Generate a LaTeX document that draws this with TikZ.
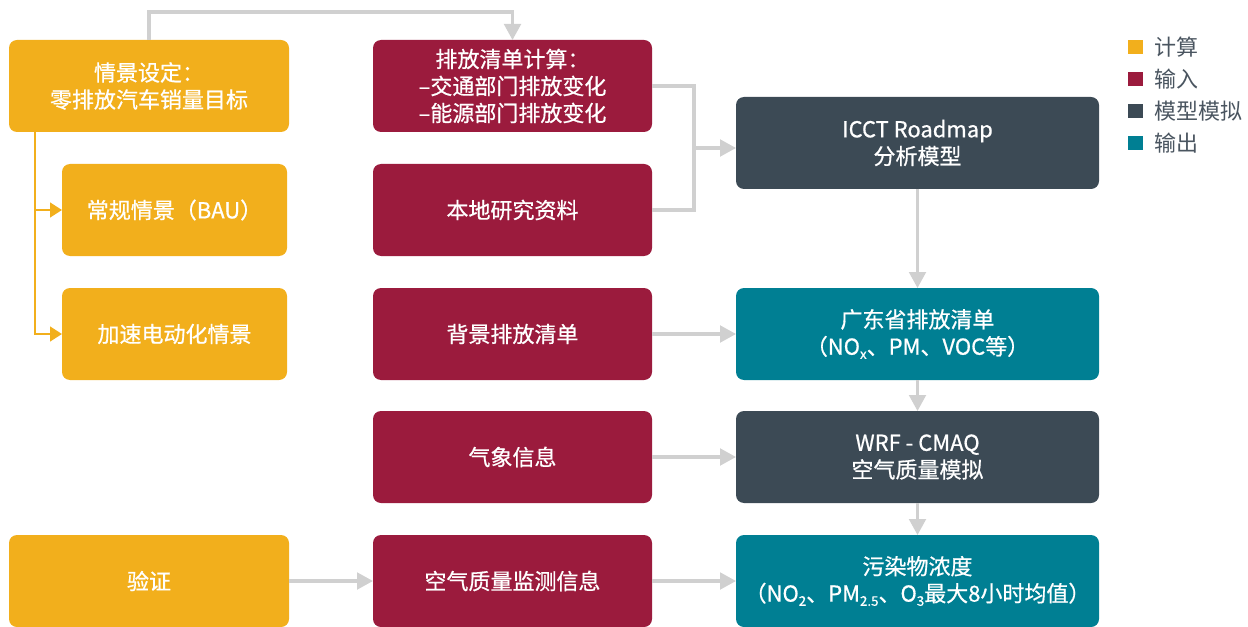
\documentclass[tikz,border=0pt]{standalone}
\usepackage{fontspec}
\setmainfont{Noto Sans CJK SC}
\newfontfamily\boxfont{Noto Sans CJK SC}[FakeBold=0.7]
\usetikzlibrary{arrows.meta,calc}
\definecolor{corange}{HTML}{F2AF1C}
\definecolor{ccrim}{HTML}{9B1B3D}
\definecolor{cdark}{HTML}{3C4A55}
\definecolor{cteal}{HTML}{007F93}
\definecolor{cgray}{HTML}{D0D0D0}
\definecolor{clegend}{HTML}{4A5560}
\newcommand\lowsub[1]{\raisebox{-0.35ex}{\fontsize{10pt}{10pt}\selectfont #1}}
\tikzset{
  box/.style={rounded corners=6pt, outer sep=0pt, inner sep=2pt, align=center,
    text=white, minimum height=69pt, font=\boxfont\fontsize{16.5pt}{20.25pt}\selectfont},
  calc/.style={box, fill=corange},
  inp/.style={box, fill=ccrim, minimum width=209.25pt},
  model/.style={box, fill=cdark, minimum width=272.25pt},
  outp/.style={box, fill=cteal, minimum width=272.25pt},
  gline/.style={draw=cgray, line width=2.3pt},
  garrow/.style={gline, -{Triangle[length=12pt,width=12.5pt]}},
  oarrow/.style={draw=corange, line width=1.8pt, -{Triangle[length=9pt,width=11pt]}},
  legsq/.style={minimum size=11pt, inner sep=0pt},
  legtxt/.style={anchor=west, text=clegend, font=\fontsize{16.5pt}{20pt}\selectfont}
}
\begin{document}
\begin{tikzpicture}[x=0.75pt,y=-0.75pt]
\useasboundingbox (0,0) rectangle (1248,627);
% left column
\node[calc, minimum width=210pt] (s) at (149,86) {情景设定：\\零排放汽车销量目标};
\node[calc, minimum width=168.75pt] (bau) at (174.5,210) {常规情景（BAU）};
\node[calc, minimum width=168.75pt] (acc) at (174.5,334) {加速电动化情景};
\node[calc, minimum width=210pt] (ver) at (149,581) {验证};
% middle column
\node[inp] (inv) at (512.5,86) {排放清单计算：\\–交通部门排放变化\\–能源部门排放变化};
\node[inp] (loc) at (512.5,210) {本地研究资料};
\node[inp] (bg) at (512.5,334) {背景排放清单};
\node[inp] (met) at (512.5,457) {气象信息};
\node[inp] (aq) at (512.5,581) {空气质量监测信息};
% right column
\node[model] (icct) at (917.5,143) {ICCT Roadmap\\分析模型};
\node[outp] (gd) at (917.5,334) {广东省排放清单\\（NO\lowsub{x}、PM、VOC等）};
\node[model] (wrf) at (917.5,457) {WRF - CMAQ\\空气质量模拟};
\node[outp] (pol) at (917.5,581) {污染物浓度\\（NO\lowsub{2}、PM\lowsub{2.5}、O\lowsub{3}最大8小时均值）};
% legend
\node[legsq, fill=corange] (l1) at (1135.5,47) {};
\node[legsq, fill=ccrim] (l2) at (1135.5,79) {};
\node[legsq, fill=cdark] (l3) at (1135.5,111) {};
\node[legsq, fill=cteal] (l4) at (1135.5,143) {};
\node[legtxt] (t1) at (1150,47) {计算};
\node[legtxt] (t2) at (1150,79) {输入};
\node[legtxt] (t3) at (1150,111) {模型模拟};
\node[legtxt] (t4) at (1150,143) {输出};
% connectors
\draw[garrow] (s.north) -- ++(0,-28) -| (inv.north);
\coordinate (j) at (694,148);
\draw[gline] (inv.east) -| (j);
\draw[gline] (loc.east) -| (j);
\draw[garrow] (j) -- (icct.west |- j);
\draw[garrow] (icct.south) -- (gd.north);
\draw[garrow] (bg.east) -- (gd.west);
\draw[garrow] (gd.south) -- (wrf.north);
\draw[garrow] (met.east) -- (wrf.west);
\draw[garrow] (wrf.south) -- (pol.north);
\draw[garrow] (ver.east) -- (aq.west);
\draw[garrow] (aq.east) -- (pol.west);
\coordinate (o) at ($(s.south west)+(26,0)$);
\draw[oarrow] (o) |- (bau.west);
\draw[oarrow] (o) |- (acc.west);
\end{tikzpicture}
\end{document}
